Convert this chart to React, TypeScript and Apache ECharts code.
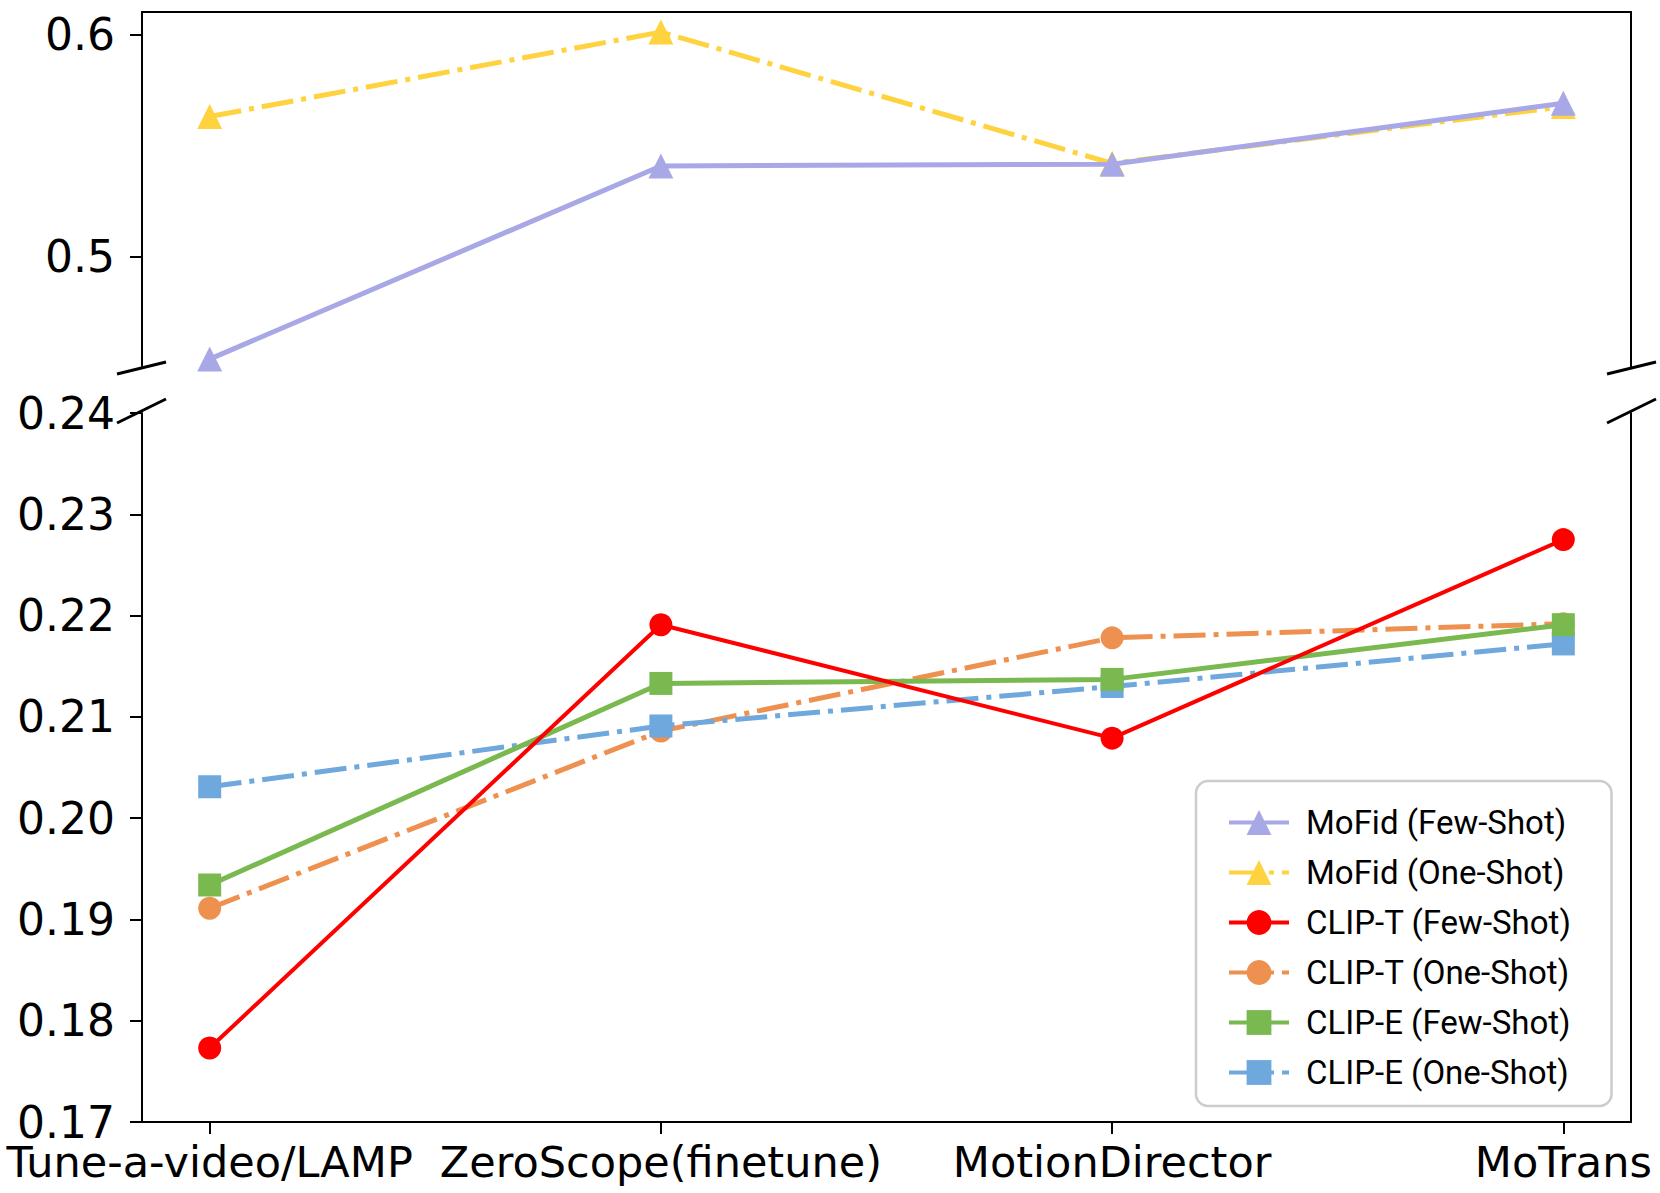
import React, { useEffect, useRef } from "react";
import * as echarts from "echarts";

const categories = ["Tune-a-video/LAMP", "ZeroScope(finetune)", "MotionDirector", "MoTrans"];
const xPositions = [0, 1, 2, 3];

const mofidFew = [0.454, 0.5408, 0.5416, 0.569];
const mofidOne = [0.563, 0.601, 0.542, 0.5675];
const clipTFew = [0.1773, 0.2191, 0.2079, 0.2275];
const clipTOne = [0.1911, 0.2086, 0.2178, 0.2192];
const clipEFew = [0.1934, 0.2133, 0.2137, 0.2191];
const clipEOne = [0.2031, 0.2091, 0.213, 0.2172];

const topTicks = [0.5, 0.6];
const bottomTicks = [0.17, 0.18, 0.19, 0.2, 0.21, 0.22, 0.23, 0.24];

const pairs = (vals: number[]) => vals.map((v, i) => [xPositions[i], v]);

const FONT = "DejaVu Sans";
const DASHDOT = [32, 8, 5, 8];

export default function App() {
  const ref = useRef<HTMLDivElement>(null);
  useEffect(() => {
    if (!ref.current) return;
    const chart = echarts.init(ref.current, undefined, { renderer: "svg" });
    const axisLineStyle = { color: "#000", width: 2 };
    const xBase = {
      type: "value" as const,
      min: -0.15,
      max: 3.15,
      splitLine: { show: false },
    };
    const line = (
      name: string,
      vals: number[],
      color: string,
      symbol: string,
      size: any,
      dashed: boolean,
      grid: number,
      z: number,
      width = 5
    ) => ({
      name,
      type: "line",
      xAxisIndex: grid,
      yAxisIndex: grid === 0 ? 0 : 2,
      data: pairs(vals),
      symbol,
      symbolSize: size,
      showSymbol: true,
      z,
      itemStyle: { color },
      lineStyle: { color, width, type: dashed ? DASHDOT : "solid" },
    });
    const breakLine = (x1: number, y1: number, x2: number, y2: number) => ({
      type: "line",
      shape: { x1, y1, x2, y2 },
      style: { stroke: "#000", lineWidth: 3 },
      z: 100,
    });
    chart.setOption({
      animation: false,
      backgroundColor: "#fff",
      grid: [
        { left: 142, right: 29, top: 12, height: 356 },
        { left: 142, right: 29, top: 413, bottom: 71 },
      ],
      xAxis: [
        {
          ...xBase,
          gridIndex: 0,
          position: "top",
          axisLine: { show: true, onZero: false, lineStyle: axisLineStyle },
          axisTick: { show: false },
          axisLabel: { show: false },
        },
        {
          ...xBase,
          gridIndex: 1,
          position: "bottom",
          axisLine: { show: true, onZero: false, lineStyle: axisLineStyle },
          axisTick: {
            show: true,
            length: 12,
            customValues: xPositions,
            lineStyle: { color: "#000", width: 2 },
          },
          axisLabel: {
            show: true,
            customValues: xPositions,
            formatter: (v: number) => categories[Math.round(v)],
            fontFamily: FONT,
            fontSize: 43,
            color: "#000",
            margin: 18,
            hideOverlap: false,
          },
        },
      ],
      yAxis: [
        {
          type: "value",
          gridIndex: 0,
          min: 0.45,
          max: 0.61,
          splitLine: { show: false },
          axisLine: { show: true, onZero: false, lineStyle: axisLineStyle },
          axisTick: {
            show: true,
            length: 12,
            customValues: topTicks,
            lineStyle: { color: "#000", width: 2 },
          },
          axisLabel: {
            customValues: topTicks,
            formatter: (v: number) => v.toFixed(1),
            fontFamily: FONT,
            fontSize: 44,
            color: "#000",
            margin: 27,
          },
        },
        {
          type: "value",
          gridIndex: 0,
          position: "right",
          min: 0,
          max: 1,
          splitLine: { show: false },
          axisLine: { show: true, onZero: false, lineStyle: axisLineStyle },
          axisTick: { show: false },
          axisLabel: { show: false },
        },
        {
          type: "value",
          gridIndex: 1,
          min: 0.17,
          max: 0.24,
          splitLine: { show: false },
          axisLine: { show: true, onZero: false, lineStyle: axisLineStyle },
          axisTick: {
            show: true,
            length: 12,
            customValues: bottomTicks,
            lineStyle: { color: "#000", width: 2 },
          },
          axisLabel: {
            customValues: bottomTicks,
            formatter: (v: number) => v.toFixed(2),
            fontFamily: FONT,
            fontSize: 44,
            color: "#000",
            margin: 27,
          },
        },
        {
          type: "value",
          gridIndex: 1,
          position: "right",
          min: 0,
          max: 1,
          splitLine: { show: false },
          axisLine: { show: true, onZero: false, lineStyle: axisLineStyle },
          axisTick: { show: false },
          axisLabel: { show: false },
        },
      ],
      legend: {
        orient: "vertical",
        left: 1196,
        top: 781,
        padding: [25, 40, 17, 31],
        backgroundColor: "#fff",
        borderColor: "#cccccc",
        borderWidth: 2.5,
        borderRadius: 12,
        itemWidth: 60,
        itemHeight: 31,
        itemGap: 17,
        lineStyle: { width: 4 },
        textStyle: {
          fontFamily: "Roboto",
          fontSize: 33,
          lineHeight: 32,
          color: "#000",
          padding: [0, 0, 0, 12],
        },
        data: [
          "MoFid (Few-Shot)",
          "MoFid (One-Shot)",
          "CLIP-T (Few-Shot)",
          "CLIP-T (One-Shot)",
          "CLIP-E (Few-Shot)",
          "CLIP-E (One-Shot)",
        ],
      },
      series: [
        line("MoFid (Few-Shot)", mofidFew, "#a8a8e6", "triangle", [25, 25], false, 0, 4),
        line("MoFid (One-Shot)", mofidOne, "#ffd23f", "triangle", [25, 25], true, 0, 3),
        line("CLIP-T (Few-Shot)", clipTFew, "#ff0000", "circle", 23, false, 1, 6, 4),
        line("CLIP-T (One-Shot)", clipTOne, "#ee9150", "circle", 23, true, 1, 2),
        line("CLIP-E (Few-Shot)", clipEFew, "#7ab850", "rect", 23, false, 1, 5),
        line("CLIP-E (One-Shot)", clipEOne, "#6fa8dc", "rect", 23, true, 1, 4),
      ],
      graphic: [
        breakLine(117, 374, 166, 362),
        breakLine(117, 423, 166, 399),
        breakLine(1607, 374, 1656, 362),
        breakLine(1607, 423, 1656, 399),
      ],
    });
    return () => chart.dispose();
  }, []);
  return (
    <div
      ref={ref}
      style={{ position: "fixed", left: 0, top: 0, width: 1660, height: 1193, background: "#fff" }}
    />
  );
}
